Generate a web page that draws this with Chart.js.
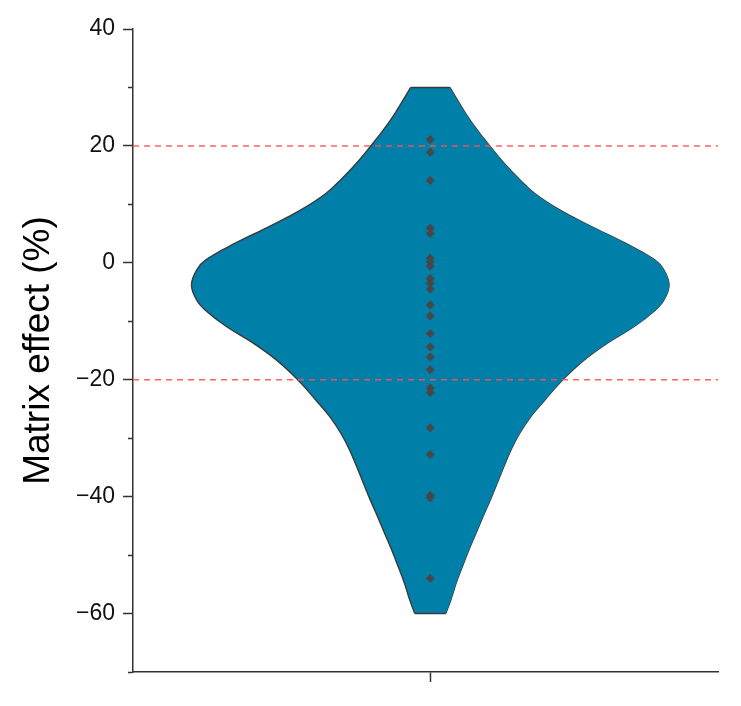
<!DOCTYPE html>
<html lang="en">
<head>
<meta charset="UTF-8">
<title>Matrix effect</title>
<script src="https://cdn.jsdelivr.net/npm/chart.js"></script>
<style>
  body { margin: 0; background: #fff; }
  #wrap { width: 741px; height: 706px; }
</style>
</head>
<body>
<div id="wrap"><canvas id="myChart" width="741" height="706"></canvas></div>
<script>
// violin outline: value (%) and half width (widest = 1)
const violinY = [-60, -57.7, -54.8, -52.0, -49.1, -46.3, -43.4, -40.6, -37.7, -34.9, -32.0, -29.2, -26.3, -23.5, -20.0, -16.6, -13.7, -10.9, -8.1, -6.4, -3.8, -1.2, 0.5, 3.4, 6.2, 9.0, 11.9, 14.3, 17.0, 19.9, 22.7, 25.5, 30];
const violinW = [0.065, 0.086, 0.108, 0.134, 0.162, 0.191, 0.221, 0.251, 0.28, 0.308, 0.338, 0.374, 0.421, 0.479, 0.555, 0.645, 0.743, 0.854, 0.942, 0.978, 1.0, 0.978, 0.94, 0.815, 0.675, 0.544, 0.436, 0.373, 0.31, 0.251, 0.197, 0.149, 0.082];
// individual samples (%)
const samples = [21.1, 18.9, 14.1, 5.9, 5.0, 0.8, 0.2, -0.6, -2.7, -3.5, -4.5, -7.2, -9.1, -12.1, -14.4, -16.1, -18.3, -21.4, -22.2, -28.2, -32.8, -39.8, -40.2, -54.0];
const limits = [20, -20];
const yTicks = [-60, -40, -20, 0, 20, 40];

const xMin = -1.245, xMax = 1.205;
const lineCol = '#333333';
const edgeCol = '#3a3a3a';

let leftSide = violinY.map((v, i) => ({x: -violinW[i], y: v}));
let rightSide = violinY.map((v, i) => ({x: violinW[i], y: v}));
let last = violinY.length - 1;
let topEdge = [{x: -violinW[last], y: violinY[last]}, {x: violinW[last], y: violinY[last]}];
let bottomEdge = [{x: -violinW[0], y: violinY[0]}, {x: violinW[0], y: violinY[0]}];

function fmt(v) {
    return v < 0 ? '\u2212' + Math.abs(v) : String(v);
}

let datasets = [
    {
        data: leftSide, fill: '+1', backgroundColor: '#007fa8',
        borderColor: edgeCol, borderWidth: 1.4, pointRadius: 0,
        tension: 0.4, order: 5
    },
    {
        data: rightSide, fill: false,
        borderColor: edgeCol, borderWidth: 1.4, pointRadius: 0,
        tension: 0.4, order: 5
    },
    { data: topEdge, borderColor: edgeCol, borderWidth: 1.4, pointRadius: 0, order: 4 },
    { data: bottomEdge, borderColor: edgeCol, borderWidth: 1.4, pointRadius: 0, order: 4 }
];
limits.forEach(function (l) {
    datasets.push({
        data: [{x: xMin, y: l}, {x: xMax, y: l}],
        borderColor: 'rgba(255,80,80,0.9)', borderWidth: 1.5, borderDash: [6, 5],
        pointRadius: 0, order: 2
    });
});
datasets.push({
    data: samples.map(v => ({x: 0, y: v})),
    showLine: false, pointStyle: 'rectRot', pointRadius: 4.5,
    pointBackgroundColor: '#474747', pointBorderWidth: 0, order: 1
});

let ctx = document.getElementById('myChart');
let myChart = new Chart(ctx, {
    type: 'line',
    data: { datasets: datasets },
    options: {
        indexAxis: 'y',
        responsive: false,
        animation: false,
        layout: { padding: { left: 0, right: 23, top: 29, bottom: 0 } },
        plugins: { legend: { display: false }, tooltip: { enabled: false } },
        scales: {
            x: {
                type: 'linear', min: xMin, max: xMax,
                afterBuildTicks: function (axis) { axis.ticks = [{value: 0}]; },
                afterFit: function (axis) { axis.height = 34; },
                ticks: { callback: () => '' },
                grid: { drawOnChartArea: false, tickLength: 10, tickColor: lineCol, tickWidth: 1.5 },
                border: { color: lineCol, width: 1.5 }
            },
            y: {
                type: 'linear', min: -70, max: 40,
                afterFit: function (axis) { axis.width = 133; },
                ticks: {
                    stepSize: 10, padding: 8, color: '#111',
                    font: { family: 'Liberation Sans, Arial, sans-serif', size: 23 },
                    callback: function (v) { return yTicks.includes(v) ? fmt(v) : ''; }
                },
                grid: {
                    drawOnChartArea: false, tickLength: 10, tickColor: lineCol, tickWidth: 1.5,
                    tickBorderDash: function (c) {
                        return c.tick && yTicks.includes(c.tick.value) ? [] : [0, 5, 5];
                    }
                },
                border: { color: lineCol, width: 1.5 },
                title: {
                    display: true, text: 'Matrix effect (%)', color: '#000',
                    font: { family: 'Liberation Sans, Arial, sans-serif', size: 37 },
                    padding: { top: 17, bottom: 0 }
                }
            }
        }
    }
});
</script>
</body>
</html>
